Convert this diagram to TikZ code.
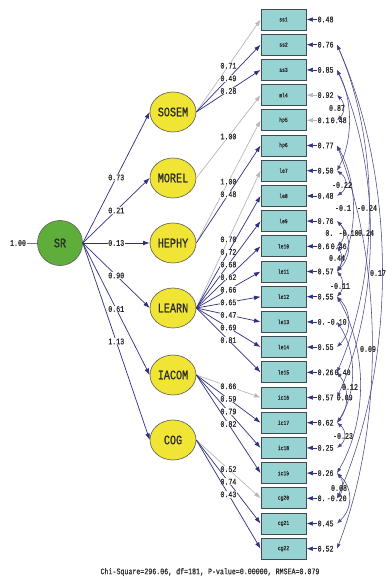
\documentclass[tikz,border=0pt]{standalone}
\usepackage{fontspec}
\newfontfamily\numfont[FakeStretch=0.78,FakeBold=0.6]{Liberation Mono}
\usetikzlibrary{arrows.meta,calc,shapes.geometric}
\definecolor{navy}{HTML}{2E2E80}
\definecolor{arcc}{HTML}{45458A}
\definecolor{fixg}{HTML}{B8B8B8}
\definecolor{boxf}{HTML}{97D3D3}
\definecolor{boxd}{HTML}{404A55}
\definecolor{yel}{HTML}{F0E534}
\definecolor{grn}{HTML}{5FAE3C}
\definecolor{txt}{HTML}{2A2A2A}
\begin{document}
\begin{tikzpicture}[x=1pt,y=-1pt,
  obs/.style={draw=boxd, line width=0.9pt, fill=boxf, minimum width=45pt, minimum height=21pt, inner sep=0pt, font=\numfont\fontsize{6}{6}\selectfont, text=txt},
  lat/.style={ellipse, draw=black!65, line width=0.6pt, fill=yel, minimum width=46pt, minimum height=40pt, inner sep=0pt, font=\numfont\fontsize{13}{13}\selectfont, text=txt},
  num/.style={font=\numfont\fontsize{8.5}{8.5}\selectfont, text=txt, inner sep=0.4pt},
  lbl/.style={num, fill=white},
  ldg/.style={draw=navy, line width=0.7pt, arrows={-Latex[length=6.5pt,width=4.6pt]}},
  cov/.style={draw=arcc, line width=0.55pt, arrows={Latex[length=5pt,width=3.8pt]-Latex[length=5pt,width=3.8pt]}},
]
\useasboundingbox (0,0) rectangle (386,580);

% observed variables
\foreach \i/\t in {1/ss1,2/ss2,3/ss3,4/ml4,5/hp5,6/hp6,7/le7,8/le8,9/le9,10/le10,11/le11,
  12/le12,13/le13,14/le14,15/le15,16/ic16,17/ic17,18/ic18,19/ic19,20/cg20,21/cg21,22/cg22}
  \node[obs] (b\i) at (283.5,{19.5+25.2*(\i-1)}) {\t};

% error variances
\foreach \i/\t/\c in {1/0.48/navy,2/0.76/navy,3/0.85/navy,4/0.92/fixg,5/0.1/fixg,6/0.77/navy,
  7/0.50/navy,8/0.48/navy,9/0.76/navy,10/0.6/navy,11/0.57/navy,12/0.55/navy,13/0./navy,
  14/0.55/navy,15/0.26/navy,16/0.57/navy,17/0.62/navy,18/0.25/navy,19/0.26/navy,20/0./navy,
  21/0.45/navy,22/0.52/navy}{
  \node[num, anchor=west] (e\i) at (317,{19.5+25.2*(\i-1)}) {\t};
  \draw[ldg, draw=\c] (e\i.west) -- (b\i.east);
  \coordinate (c\i) at (337,{19.5+25.2*(\i-1)});
}
% covariance labels next to error variances
\node[num, anchor=west] (k5) at (e5.east) {0.48};
\node[num, anchor=west] (k10) at (e10.east) {0.46};
\node[num, anchor=west] (k13) at (e13.east) {-0.10};
\node[num, anchor=west] (k15) at (e15.east) {0.40};
\node[num, anchor=west] (k16) at ([xshift=2pt]e16.east) {0.09};
\node[num, anchor=west] (k20) at (e20.east) {-0.20};

% error covariances
\foreach \i/\j/\a in {4/5/343,3/7/349,7/8/345,6/11/353,2/15/369,9/10/343,3/16/370,9/11/348,
  10/11/341,2/20/382,11/12/342,12/14/348,6/22/372,13/17/352,12/19/360,15/17/346,17/18/344,
  19/20/342,19/21/349}{
  \pgfmathsetmacro\kk{(\a-337)/0.75}
  \pgfmathsetmacro\vv{7.56*(\j-\i)}
  \draw[cov] (c\i) .. controls +(\kk,\vv) and +(\kk,-\vv) .. (c\j);
}
\node[num] (q1) at (337,108) {0.87};
\node[num] (q2) at (342,185) {-0.22};
\node[num] (q3) at (343,208) {-0.1};
\node[num] (q4) at (367,208) {-0.24};
\node[num] (q5) at (342,233) {0. -0.10};
\node[num] (q6) at (366,233) {0.24};
\node[num] (q7) at (337,258) {0.44};
\node[num] (q8) at (378,273) {0.17};
\node[num] (q9) at (340,286) {-0.11};
\node[num] (q10) at (368,349) {0.09};
\node[num] (q11) at (350,387) {0.12};
\node[num] (q12) at (343,436) {-0.23};
\node[num] (q13) at (339,488) {0.08};

% latent variables
\node[lat] (SOSEM) at (173,112) {SOSEM};
\node[lat] (MOREL) at (173,178) {MOREL};
\node[lat] (HEPHY) at (173,243) {HEPHY};
\node[lat] (LEARN) at (173,308) {LEARN};
\node[lat] (IACOM) at (173,375) {IACOM};
\node[lat] (COG) at (173,440) {COG};
\node[lat, circle, fill=grn, minimum size=45pt] (SR) at (60,243) {SR};

\node[num] (v0) at (18,243) {1.00};
\draw[draw=black!55, line width=0.6pt] (v0.east) -- (SR.west);

% structural paths
\foreach \n/\v in {SOSEM/0.73,MOREL/0.21,HEPHY/0.13,LEARN/0.90,IACOM/0.61,COG/1.13}
  \draw[ldg] (SR.east) -- (\n.west) node[lbl, midway] (s\n) {\v};

% loadings
\foreach \l/\b/\v/\c in {SOSEM/1/0.71/fixg,SOSEM/2/0.49/navy,SOSEM/3/0.28/navy,
  MOREL/4/1.00/fixg,HEPHY/5/1.00/fixg,HEPHY/6/0.48/navy,
  LEARN/7/0.70/fixg,LEARN/8/0.72/navy,LEARN/9/0.68/navy,LEARN/10/0.62/navy,LEARN/11/0.66/navy,
  LEARN/12/0.65/navy,LEARN/13/0.47/navy,LEARN/14/0.69/navy,LEARN/15/0.81/navy,
  IACOM/16/0.66/fixg,IACOM/17/0.59/navy,IACOM/18/0.79/navy,IACOM/19/0.82/navy,
  COG/20/0.52/fixg,COG/21/0.74/navy,COG/22/0.43/navy}
  \draw[ldg, draw=\c] (\l.east) -- (b\b.west) node[lbl, midway] (m\b) {\v};

\node[num] (chi) at (210,572) {Chi-Square=296.06, df=181, P-value=0.00000, RMSEA=0.079};
\end{tikzpicture}
\end{document}
